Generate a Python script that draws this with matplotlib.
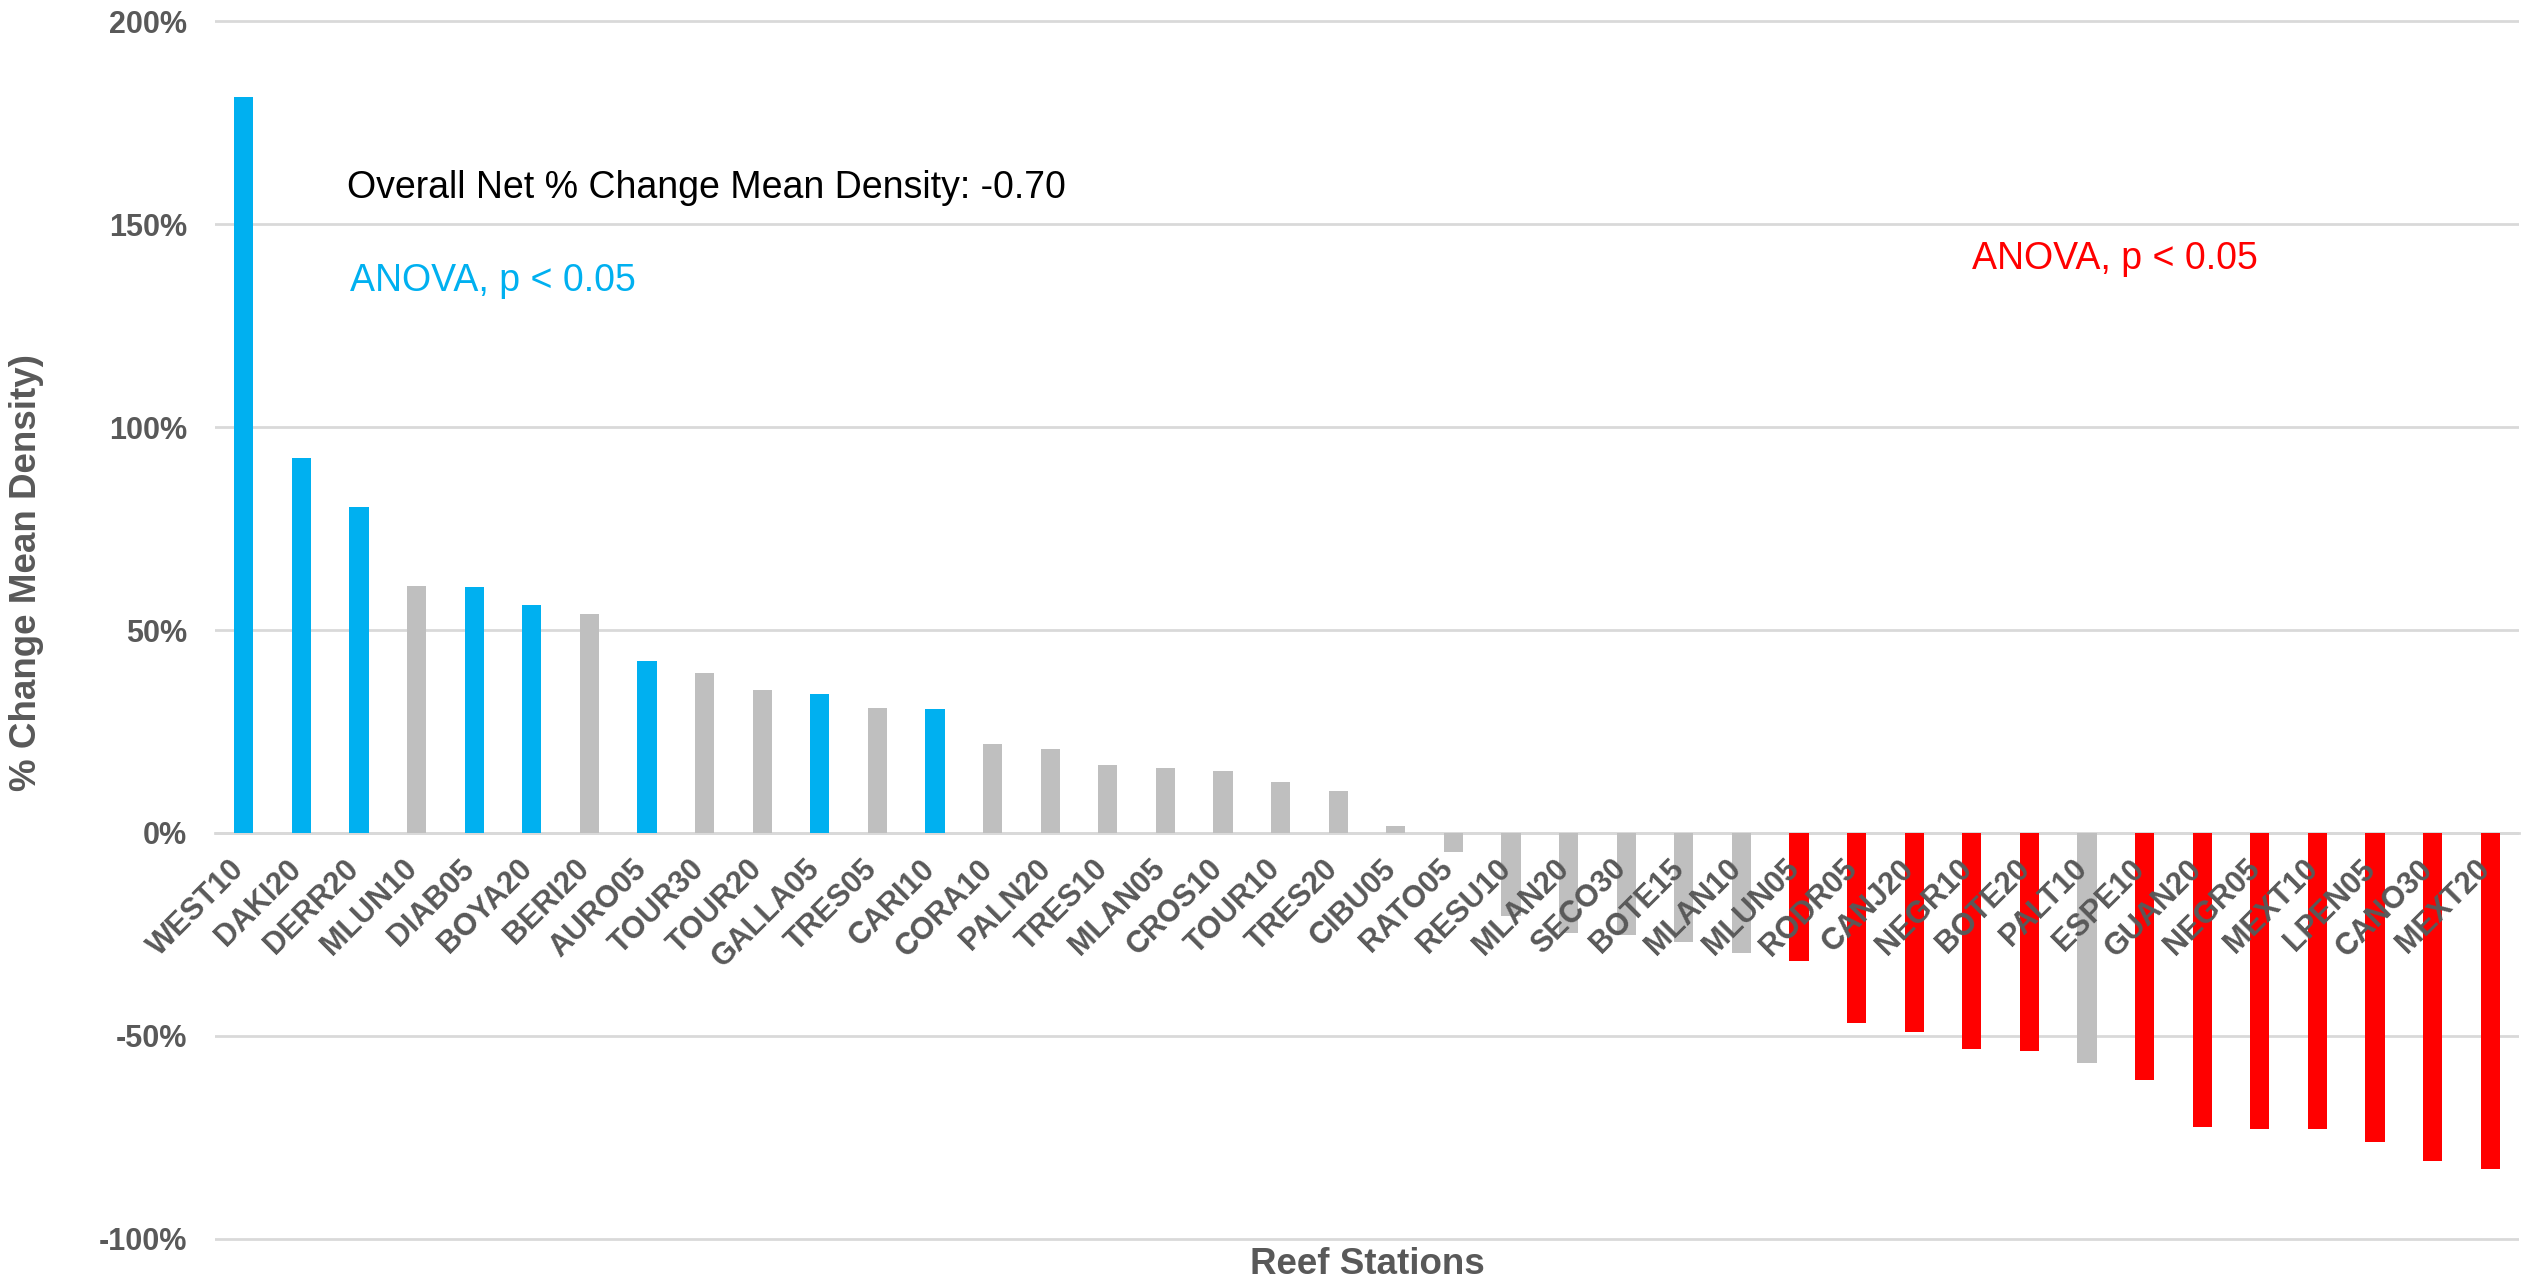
import matplotlib
matplotlib.use("Agg")
import matplotlib.pyplot as plt
from matplotlib.ticker import FuncFormatter, MultipleLocator
from matplotlib.transforms import ScaledTranslation

plt.rcParams['font.family'] = ['Liberation Sans', 'DejaVu Sans']

stations = ["WEST10", "DAKI20", "DERR20", "MLUN10", "DIAB05", "BOYA20", "BERI20",
            "AURO05", "TOUR30", "TOUR20", "GALLA05", "TRES05", "CARI10", "CORA10",
            "PALN20", "TRES10", "MLAN05", "CROS10", "TOUR10", "TRES20", "CIBU05",
            "RATO05", "RESU10", "MLAN20", "SECO30", "BOTE15", "MLAN10", "MLUN05",
            "RODR05", "CANJ20", "NEGR10", "BOTE20", "PALT10", "ESPE10", "GUAN20",
            "NEGR05", "MEXT10", "LPEN05", "CANO30", "MEXT20"]

pct_change = [181.3, 92.4, 80.3, 60.8, 60.6, 56.2, 53.9,
              42.4, 39.3, 35.1, 34.2, 30.8, 30.5, 21.8,
              20.7, 16.7, 15.9, 15.3, 12.6, 10.4, 1.6,
              -4.7, -20.4, -24.6, -25.1, -26.8, -29.6, -31.5,
              -46.8, -48.9, -53.1, -53.6, -56.7, -60.9, -72.3,
              -72.8, -73.0, -76.0, -80.7, -82.7]

# significance group: "inc" = significant increase, "dec" = significant decrease, "ns" = not significant
significance = ["inc", "inc", "inc", "ns", "inc", "inc", "ns",
                "inc", "ns", "ns", "inc", "ns", "inc", "ns",
                "ns", "ns", "ns", "ns", "ns", "ns", "ns",
                "ns", "ns", "ns", "ns", "ns", "ns", "dec",
                "dec", "dec", "dec", "dec", "ns", "dec", "dec",
                "dec", "dec", "dec", "dec", "dec"]

colour_map = {"inc": "#00B0F0", "dec": "#FF0000", "ns": "#BFBFBF"}
bar_colours = [colour_map[s] for s in significance]

text_grey = "#595959"
grid_grey = "#D9D9D9"

W, H = 2521, 1283
fig = plt.figure(figsize=(W / 100, H / 100), dpi=100)
ax = fig.add_axes([215 / W, 42 / H, (2519 - 215) / W, (1264 - 42) / H])

x = list(range(len(stations)))
ax.bar(x, pct_change, width=0.33, color=bar_colours, zorder=3)

ax.set_xlim(-0.5, len(stations) - 0.5)
ax.set_ylim(-100.5, 200.5)
ax.yaxis.set_major_locator(MultipleLocator(50))
ax.yaxis.set_major_formatter(FuncFormatter(lambda v, p: f"{v:.0f}%"))
ax.grid(axis='y', color=grid_grey, linewidth=2, zorder=0)
ax.set_axisbelow(True)

for s in ['top', 'right', 'left']:
    ax.spines[s].set_visible(False)
ax.spines['bottom'].set_position(('data', 0))
ax.spines['bottom'].set_color(grid_grey)
ax.spines['bottom'].set_linewidth(2)
ax.spines['bottom'].set_zorder(2)

# category labels just under the zero line, rotated 45 degrees
ax.set_xticks(x)
ax.set_xticklabels([])
ax.tick_params(axis='x', length=0)
label_tr = ax.transData + ScaledTranslation(-3.2 / 72, -22.7 / 72, fig.dpi_scale_trans)
for xi, name in zip(x, stations):
    ax.text(xi, 0, name, transform=label_tr, rotation=45, rotation_mode='anchor',
            ha='right', va='center', fontsize=22, fontweight='bold',
            color=text_grey, zorder=4)

ax.tick_params(axis='y', length=0, pad=20, labelsize=22, labelcolor=text_grey)
for lab in ax.get_yticklabels():
    lab.set_fontweight('bold')

ax.text(1.79, 158.9, "Overall Net % Change Mean Density: -0.70", fontsize=27,
        color="black", ha='left', va='center')
ax.text(1.84, 136.0, "ANOVA, p < 0.05", fontsize=27, color="#00B0F0",
        ha='left', va='center')
ax.text(30.0, 141.4, "ANOVA, p < 0.05", fontsize=27, color="#FF0000",
        ha='left', va='center')

fig.text(27 / W, 1 - 573 / H, "% Change Mean Density)", rotation=90, ha='center',
         va='center', fontsize=26.5, fontweight='bold', color=text_grey)
fig.text(1367 / W, 1 - 1265 / H, "Reef Stations", ha='center', va='center',
         fontsize=26.5, fontweight='bold', color=text_grey)

fig.savefig("out.png", dpi=100, facecolor='white')
